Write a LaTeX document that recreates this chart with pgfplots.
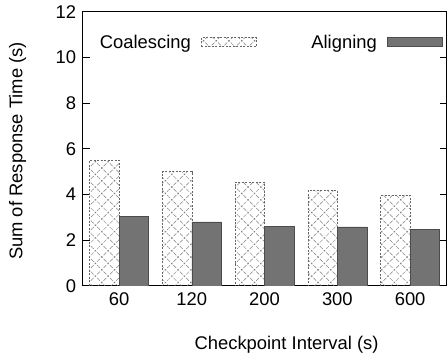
\documentclass[border=0pt]{standalone}
\usepackage{fontspec}
\setmainfont{Liberation Sans}
\usepackage{pgfplots}
\pgfplotsset{compat=1.18}
\usetikzlibrary{patterns.meta}
\newcommand{\gfont}{\fontsize{18.4bp}{22bp}\selectfont}
\begin{document}
\begin{tikzpicture}
\begin{axis}[
  at={(0,0)}, anchor=south west,
  scale only axis, width=364bp, height=274bp,
  ybar=0pt, bar width=29.5bp,
  xmin=-0.5, xmax=4.5, ymin=0, ymax=12,
  xtick=data, xticklabels={60,120,200,300,600},
  x tick style={draw=none},
  ytick={0,2,4,6,8,10,12},
  tick align=inside, major tick length=7bp,
  y tick style={line width=1bp, black},
  axis line style={line width=1bp},
  /pgf/number format/assume math mode=true,
  tick label style={font=\gfont},
  xticklabel style={yshift=-3bp},
  yticklabel style={xshift=-3bp},
  xlabel={Checkpoint Interval (s)},
  ylabel={Sum of Response Time (s)},
  every axis x label/.style={at={(axis description cs:0.5,0)}, xshift=22bp, yshift=-59bp, anchor=center, font=\gfont},
  every axis y label/.style={at={(axis description cs:0,0.5)}, xshift=-65bp, yshift=-2bp, rotate=90, anchor=center, font=\gfont},
  legend columns=2,
  legend plot pos=right,
  legend style={draw=none, fill=none, font=\gfont, at={(axis description cs:0,1)}, anchor=north west, xshift=13bp, yshift=-20bp,
    nodes={inner sep=1bp},
    /tikz/every odd column/.append style={column sep=9bp},
    /tikz/every even column/.append style={column sep=54bp}},
  legend image code/.code={\draw[#1] (0bp,-4bp) rectangle (55bp,5bp);},
]
\addplot[draw=black!60, line width=0.6bp, dash pattern=on 2bp off 1.5bp,
  pattern={Hatch[angle=45, distance=9bp, line width=0.5bp]}, pattern color=black!50]
  coordinates {(0,5.5) (1,5.0) (2,4.55) (3,4.17) (4,3.96)};
\addlegendentry{Coalescing}
\addplot[draw=black!70, line width=0.6bp, fill=black!55]
  coordinates {(0,3.03) (1,2.8) (2,2.61) (3,2.58) (4,2.48)};
\addlegendentry{Aligning}
\end{axis}
\pgfresetboundingbox
\path (-82.7bp,-73bp) rectangle (364.5bp,286bp);
\end{tikzpicture}
\end{document}
